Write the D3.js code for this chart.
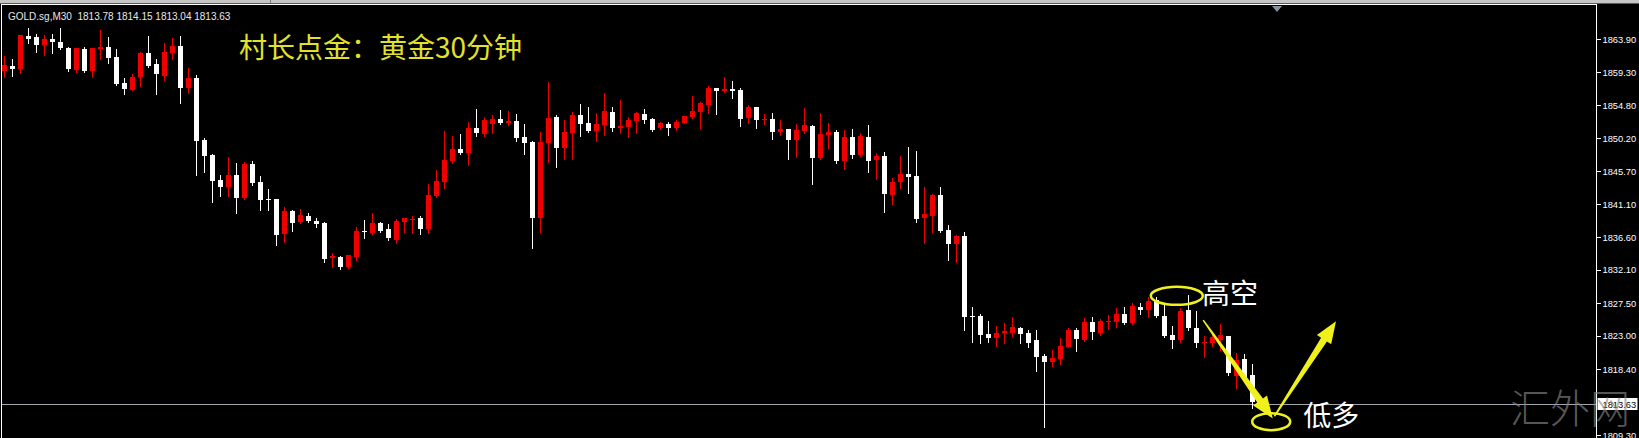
<!DOCTYPE html>
<html>
<head>
<meta charset="utf-8">
<script src="https://cdn.jsdelivr.net/npm/d3@7"></script>
<style>
  html, body { margin: 0; padding: 0; background: #000; overflow: hidden; }
  svg { display: block; }
</style>
</head>
<body>
<script>
'use strict'

// GOLD.sg M30 bars, oldest first
var opens = [
  1859.5, 1860.2, 1859.8, 1864.3, 1864.2, 1863.1, 1863.9, 1863.5, 1862.7, 1859.6,
  1862.5, 1859.5, 1862.5, 1862.8, 1861.4, 1857.8, 1856.9, 1858.7, 1862.0, 1860.4,
  1858.8, 1862.0, 1862.9, 1857.1, 1858.5, 1850.0, 1847.9, 1844.5, 1843.5, 1845.1,
  1842.0, 1846.7, 1844.2, 1841.8, 1841.8, 1837.0, 1840.2, 1838.7, 1839.5, 1838.8,
  1838.5, 1833.7, 1833.8, 1832.5, 1833.8, 1837.4, 1837.1, 1838.5, 1837.7, 1836.2,
  1838.7, 1838.9, 1839.3, 1837.7, 1842.2, 1844.2, 1847.1, 1848.7, 1848.2, 1851.6,
  1850.8, 1852.2, 1852.9, 1852.3, 1852.6, 1850.4, 1849.7, 1839.3, 1849.6, 1853.1,
  1848.9, 1850.9, 1853.4, 1852.3, 1851.2, 1852.0, 1853.8, 1851.6, 1851.8, 1852.6,
  1853.6, 1852.9, 1851.6, 1852.2, 1851.6, 1852.3, 1853.1, 1853.8, 1854.8, 1857.1,
  1856.7, 1857.0, 1856.9, 1853.0, 1854.5, 1852.7, 1852.9, 1851.1, 1851.5, 1850.0,
  1851.2, 1851.9, 1847.5, 1850.7, 1851.1, 1847.1, 1850.4, 1847.9, 1850.4, 1847.2,
  1847.8, 1842.4, 1844.2, 1845.3, 1845.0, 1839.2, 1839.5, 1842.4, 1837.6, 1835.6,
  1836.7, 1825.7, 1825.7, 1823.2, 1822.7, 1823.4, 1823.4, 1824.0, 1823.4, 1822.4,
  1820.2, 1819.4, 1819.8, 1821.5, 1823.8, 1822.4, 1824.9, 1823.4, 1824.9, 1824.9,
  1826.0, 1824.7, 1826.9, 1826.5, 1827.9, 1825.7, 1823.1, 1822.4, 1826.5, 1824.0,
  1822.0, 1822.0, 1822.4, 1823.0, 1817.4, 1819.8, 1817.6, 1813.78
]
var highs = [
  1861.6, 1861.1, 1864.5, 1865.4, 1864.6, 1864.4, 1864.6, 1865.4, 1862.8, 1862.7,
  1862.8, 1862.7, 1865.1, 1864.2, 1862.5, 1858.5, 1859.1, 1862.1, 1864.3, 1861.1,
  1863.4, 1864.0, 1864.3, 1859.9, 1858.9, 1850.2, 1848.0, 1845.1, 1847.6, 1846.8,
  1846.9, 1847.1, 1845.0, 1843.2, 1841.9, 1840.7, 1840.3, 1840.5, 1839.9, 1839.3,
  1838.7, 1834.4, 1834.0, 1834.1, 1838.0, 1838.9, 1839.9, 1838.7, 1838.4, 1839.1,
  1839.3, 1839.5, 1839.5, 1843.9, 1845.8, 1851.2, 1850.5, 1850.8, 1852.4, 1854.2,
  1853.1, 1853.4, 1854.1, 1854.0, 1853.6, 1852.2, 1849.8, 1851.1, 1858.0, 1853.4,
  1852.7, 1853.8, 1854.9, 1854.5, 1853.7, 1856.4, 1854.5, 1855.5, 1853.1, 1853.8,
  1854.2, 1853.0, 1852.4, 1852.4, 1852.7, 1853.3, 1856.0, 1855.2, 1857.4, 1857.1,
  1858.7, 1858.1, 1857.1, 1854.8, 1854.5, 1853.6, 1853.7, 1852.7, 1851.5, 1852.2,
  1854.4, 1852.0, 1853.7, 1852.3, 1851.3, 1851.3, 1851.5, 1850.9, 1852.0, 1848.2,
  1848.3, 1844.7, 1847.8, 1849.0, 1848.5, 1843.5, 1842.5, 1843.5, 1838.2, 1836.9,
  1837.3, 1826.9, 1826.0, 1825.0, 1824.3, 1824.7, 1825.6, 1824.2, 1823.8, 1823.8,
  1820.5, 1821.0, 1822.7, 1824.1, 1824.1, 1825.4, 1825.6, 1825.3, 1825.8, 1826.8,
  1826.9, 1827.5, 1827.5, 1828.3, 1828.3, 1827.2, 1824.3, 1826.8, 1828.6, 1826.4,
  1823.0, 1823.4, 1824.6, 1823.0, 1820.6, 1820.5, 1819.1, 1814.15
]
var lows = [
  1858.7, 1858.8, 1859.2, 1863.4, 1862.1, 1861.7, 1862.0, 1862.5, 1859.5, 1859.4,
  1859.4, 1858.7, 1861.1, 1860.6, 1857.6, 1856.3, 1856.9, 1857.4, 1860.1, 1856.3,
  1858.2, 1861.1, 1855.1, 1856.4, 1845.1, 1845.6, 1841.4, 1842.2, 1842.2, 1839.9,
  1841.9, 1843.8, 1840.3, 1840.3, 1835.5, 1835.9, 1837.4, 1838.5, 1838.7, 1838.0,
  1833.1, 1832.5, 1832.2, 1832.4, 1833.4, 1836.5, 1837.0, 1837.3, 1836.2, 1835.8,
  1837.3, 1837.1, 1837.0, 1837.1, 1842.1, 1843.3, 1846.8, 1848.0, 1846.5, 1850.5,
  1850.5, 1850.9, 1852.2, 1852.0, 1849.8, 1848.0, 1835.1, 1837.3, 1846.9, 1846.2,
  1847.3, 1847.3, 1850.5, 1851.1, 1849.8, 1850.7, 1851.2, 1850.9, 1850.4, 1850.9,
  1852.3, 1851.2, 1851.5, 1850.7, 1851.3, 1852.3, 1853.0, 1851.6, 1853.7, 1853.6,
  1856.6, 1855.8, 1851.9, 1852.3, 1851.6, 1852.2, 1850.1, 1850.7, 1847.3, 1847.6,
  1850.9, 1843.9, 1847.4, 1848.9, 1846.8, 1846.0, 1847.5, 1847.8, 1845.6, 1844.6,
  1840.0, 1841.2, 1843.3, 1842.7, 1838.7, 1835.8, 1837.3, 1837.3, 1833.4, 1833.1,
  1823.8, 1822.2, 1822.0, 1822.2, 1821.6, 1822.0, 1823.0, 1822.0, 1821.4, 1818.1,
  1810.4, 1818.8, 1819.1, 1821.4, 1820.9, 1822.3, 1822.5, 1823.1, 1823.9, 1824.2,
  1824.6, 1824.6, 1826.0, 1825.6, 1825.6, 1822.8, 1821.3, 1822.1, 1823.8, 1821.4,
  1820.0, 1821.6, 1821.0, 1817.6, 1815.8, 1816.9, 1813.0, 1813.04
]
var closes = [
  1860.3, 1859.8, 1864.4, 1863.9, 1863.1, 1863.9, 1863.5, 1862.7, 1859.8, 1862.7,
  1859.5, 1862.7, 1862.8, 1861.3, 1857.7, 1857.0, 1858.7, 1862.0, 1860.2, 1859.1,
  1862.1, 1862.9, 1857.1, 1858.5, 1849.8, 1847.8, 1844.3, 1843.5, 1845.1, 1842.0,
  1846.7, 1844.0, 1841.7, 1841.7, 1836.9, 1840.2, 1838.5, 1839.6, 1838.8, 1838.4,
  1833.6, 1834.0, 1832.5, 1834.1, 1837.4, 1837.3, 1838.5, 1837.4, 1836.5, 1838.8,
  1839.2, 1839.1, 1837.7, 1842.4, 1844.3, 1847.2, 1848.7, 1848.2, 1851.6, 1850.9,
  1852.7, 1852.9, 1852.3, 1852.6, 1850.2, 1849.6, 1839.3, 1849.7, 1853.0, 1848.9,
  1851.1, 1853.4, 1852.2, 1851.2, 1852.2, 1854.0, 1851.6, 1851.9, 1852.7, 1853.7,
  1852.7, 1851.3, 1852.3, 1851.6, 1852.4, 1853.3, 1854.0, 1855.1, 1857.1, 1856.7,
  1857.0, 1856.7, 1852.9, 1854.5, 1852.7, 1852.9, 1851.1, 1851.5, 1850.0, 1851.3,
  1852.0, 1847.5, 1850.8, 1851.1, 1847.1, 1850.4, 1847.9, 1850.5, 1847.1, 1847.8,
  1842.5, 1844.2, 1845.3, 1844.9, 1839.1, 1839.8, 1842.4, 1837.4, 1835.6, 1836.7,
  1825.6, 1825.6, 1823.1, 1822.7, 1823.4, 1823.6, 1824.2, 1823.2, 1822.0, 1820.0,
  1819.4, 1819.9, 1821.6, 1823.8, 1822.5, 1824.9, 1823.5, 1825.0, 1825.1, 1826.0,
  1824.7, 1827.1, 1826.5, 1827.8, 1825.7, 1823.0, 1822.4, 1826.4, 1824.0, 1822.0,
  1822.2, 1822.8, 1823.1, 1817.8, 1819.6, 1817.2, 1813.8, 1813.63
]

var tickValues = [1863.90, 1859.30, 1854.80, 1850.20, 1845.70, 1841.10, 1836.60,
  1832.10, 1827.50, 1823.00, 1818.40, 1809.30]
var lastPrice = 1813.63
var symbol = 'GOLD.sg,M30'
var title = '村长点金：黄金30分钟'
var watermark = '汇外网'

// hand drawn marks, anchored at bar index / price
var rings = [{ i: 146.6, p: 1828.5 }, { i: 158.4, p: 1811.15 }]
var arrows = [
  { i0: 149.9, p0: 1825.15, i1: 158.6, p1: 1811.6 },
  { i0: 158.8, p0: 1811.9, i1: 166.5, p1: 1825.0 }
]
var notes = [{ i: 149.75, p: 1827.35, text: '高空' }, { i: 162.4, p: 1810.5, text: '低多' }]

var W = 1639
var H = 438
var frameRight = 1596.5
var frameLeft = 1.5
var frameTop = 4.5
var bull = '#ee0000'
var bear = '#ffffff'
var yellow = '#f0f01c'

var x = d3.scaleLinear().domain([0, 1]).range([4, 12])
var y = d3.scaleLinear().domain([1808.9, 1868.6]).range([438, 5])

var bars = opens.map(function (o, i) {
  return { i: i, o: o, h: highs[i], l: lows[i], c: closes[i] }
})

var svg = d3.select('body').append('svg')
  .attr('width', W)
  .attr('height', H)
  .style('background', '#000')

// window chrome above the chart
svg.append('rect').attr('x', 0).attr('y', 0).attr('width', W).attr('height', 3).attr('fill', '#c6c6c6')
svg.append('rect').attr('x', 0).attr('y', 3).attr('width', W).attr('height', 1).attr('fill', '#5a5a5a')
svg.append('rect').attr('x', 270).attr('y', 0).attr('width', 1).attr('height', 3).attr('fill', '#7a7a7a')

// current price line
svg.append('line')
  .attr('x1', frameLeft).attr('x2', frameRight)
  .attr('y1', Math.round(y(lastPrice)) + 0.5).attr('y2', Math.round(y(lastPrice)) + 0.5)
  .attr('stroke', '#a2a6ae')
  .attr('stroke-width', 1)

var plot = svg.append('g').attr('shape-rendering', 'crispEdges')

var candle = plot.selectAll('g.candle')
  .data(bars)
  .enter().append('g')
  .attr('class', 'candle')

candle.append('line')
  .attr('x1', function (d) { return Math.round(x(d.i)) + 0.5 })
  .attr('x2', function (d) { return Math.round(x(d.i)) + 0.5 })
  .attr('y1', function (d) { return Math.round(y(d.h)) })
  .attr('y2', function (d) { return Math.round(y(d.l)) + 1 })
  .attr('stroke', function (d) { return d.c >= d.o ? bull : bear })

candle.append('rect')
  .attr('x', function (d) { return Math.round(x(d.i)) - 2 })
  .attr('width', 5)
  .attr('y', function (d) { return Math.round(y(Math.max(d.o, d.c))) })
  .attr('height', function (d) {
    return Math.max(1, Math.round(y(Math.min(d.o, d.c))) - Math.round(y(Math.max(d.o, d.c))))
  })
  .attr('fill', function (d) { return d.c >= d.o ? bull : bear })

// frame
svg.append('path')
  .attr('d', 'M' + frameLeft + ',' + H + 'V' + frameTop + 'H' + frameRight + 'V' + H)
  .attr('fill', 'none')
  .attr('stroke', '#fff')
  .attr('stroke-width', 1)
  .attr('shape-rendering', 'crispEdges')

// chart shift marker
svg.append('path')
  .attr('d', 'M1272,6L1282,6L1277,12Z')
  .attr('fill', '#8494a4')

// price scale
var axis = d3.axisRight(y)
  .tickValues(tickValues)
  .tickSize(4)
  .tickPadding(2)
  .tickFormat(d3.format('.2f'))

var axisG = svg.append('g')
  .attr('transform', 'translate(' + frameRight + ',0)')
  .call(axis)
axisG.select('.domain').remove()
axisG.selectAll('line').attr('stroke', '#fff').attr('shape-rendering', 'crispEdges')
axisG.selectAll('text')
  .attr('fill', '#fff')
  .style('font-family', '"Liberation Sans", Arial, sans-serif')
  .style('font-size', '9.3px')

// last price tag
var py = Math.round(y(lastPrice))
svg.append('rect')
  .attr('x', frameRight + 1).attr('y', py - 6)
  .attr('width', 40).attr('height', 12)
  .attr('fill', '#fff')
svg.append('text')
  .attr('x', frameRight + 6).attr('y', py + 3.5)
  .attr('fill', '#000')
  .style('font', '9.3px "Liberation Sans", Arial, sans-serif')
  .text(lastPrice.toFixed(2))

// header line with the last bar
var last = bars[bars.length - 1]
svg.append('text')
  .attr('x', 8).attr('y', 19.5)
  .attr('fill', '#e8e8e8')
  .attr('xml:space', 'preserve')
  .style('font', '10px "Liberation Sans", Arial, sans-serif')
  .style('white-space', 'pre')
  .text(symbol + '  ' + [last.o, last.h, last.l, last.c].map(function (v) { return v.toFixed(2) }).join(' '))

svg.append('text')
  .attr('x', 239).attr('y', 58)
  .attr('fill', '#e2e22a')
  .style('font', '28px "Noto Sans CJK SC", sans-serif')
  .text(title)

// annotations
svg.selectAll('ellipse.ring')
  .data(rings)
  .enter().append('ellipse')
  .attr('class', 'ring')
  .attr('cx', function (d) { return x(d.i) })
  .attr('cy', function (d) { return y(d.p) })
  .attr('rx', function (d, k) { return k === 0 ? 26 : 19 })
  .attr('ry', function (d, k) { return k === 0 ? 9 : 8.5 })
  .attr('fill', 'none')
  .attr('stroke', yellow)
  .attr('stroke-width', 2.5)

function taperArrow (x0, y0, x1, y1, w0, w1, headLen, headW) {
  var dx = x1 - x0
  var dy = y1 - y0
  var len = Math.sqrt(dx * dx + dy * dy)
  var ux = dx / len
  var uy = dy / len
  var nx = -uy
  var ny = ux
  var bx = x1 - ux * headLen
  var by = y1 - uy * headLen
  var pts = [
    [x0 + nx * w0 / 2, y0 + ny * w0 / 2],
    [bx + nx * w1 / 2, by + ny * w1 / 2],
    [bx + nx * headW / 2, by + ny * headW / 2],
    [x1, y1],
    [bx - nx * headW / 2, by - ny * headW / 2],
    [bx - nx * w1 / 2, by - ny * w1 / 2],
    [x0 - nx * w0 / 2, y0 - ny * w0 / 2]
  ]
  return 'M' + pts.join('L') + 'Z'
}

svg.selectAll('path.arrow')
  .data(arrows)
  .enter().append('path')
  .attr('class', 'arrow')
  .attr('d', function (d) {
    return taperArrow(x(d.i0), y(d.p0), x(d.i1), y(d.p1), 1.5, 7, 22, 17)
  })
  .attr('fill', yellow)

svg.selectAll('text.note')
  .data(notes)
  .enter().append('text')
  .attr('class', 'note')
  .attr('x', function (d) { return x(d.i) })
  .attr('y', function (d) { return y(d.p) })
  .attr('fill', '#fff')
  .style('font', '28px "Noto Sans CJK SC", sans-serif')
  .text(function (d) { return d.text })

svg.append('text')
  .attr('x', 1510).attr('y', 423)
  .attr('fill', '#8a8a8a')
  .attr('fill-opacity', 0.65)
  .style('font', '300 40px "Noto Sans CJK SC", sans-serif')
  .text(watermark)
</script>
</body>
</html>
